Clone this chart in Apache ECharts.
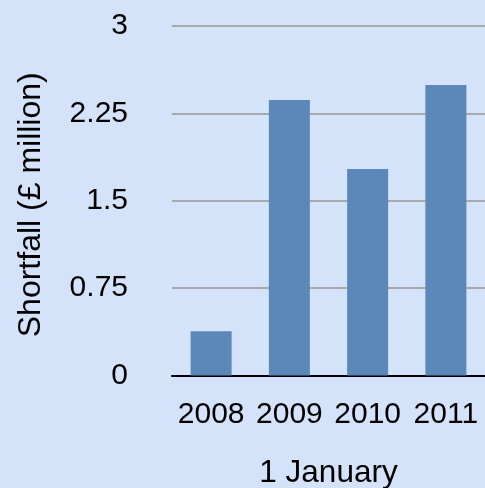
<!DOCTYPE html>
<html>
<head>
<meta charset="utf-8">
<script src="https://cdn.jsdelivr.net/npm/echarts@6/dist/echarts.min.js"></script>
<style>
html,body{margin:0;padding:0;background:#d4e3fa;}
#chart{width:485px;height:488px;}
</style>
</head>
<body>
<div id="chart"></div>
<script>
const categories = ['2008', '2009', '2010', '2011'];
const shortfall = [0.38, 2.365, 1.772, 2.494];
const yTicks = [0, 0.75, 1.5, 2.25, 3];
const xTitle = '1 January';
const yTitle = 'Shortfall (£ million)';

const font = '"Liberation Sans", Arial, Helvetica, sans-serif';
const chart = echarts.init(document.getElementById('chart'));
chart.setOption({
  backgroundColor: '#d4e3fa',
  animation: false,
  grid: { left: 172, right: 0, top: 26, bottom: 112.5, containLabel: false, outerBoundsMode: 'none' },
  xAxis: {
    type: 'category',
    data: categories,
    name: xTitle,
    nameLocation: 'middle',
    nameGap: 82,
    nameTextStyle: { color: '#000', fontSize: 31.5, fontFamily: font },
    axisLine: { show: true, lineStyle: { color: '#000', width: 2 } },
    axisTick: { show: false },
    axisLabel: { color: '#000', fontSize: 30, fontFamily: font, margin: 24, interval: 0 }
  },
  yAxis: {
    type: 'value',
    min: yTicks[0],
    max: yTicks[yTicks.length - 1],
    interval: yTicks[1] - yTicks[0],
    name: yTitle,
    nameLocation: 'middle',
    nameGap: 125,
    nameTextStyle: { color: '#000', fontSize: 32, fontFamily: font, padding: [0, 8, 0, 0] },
    axisLine: { show: false },
    axisTick: { show: false },
    axisLabel: { color: '#000', fontSize: 30, fontFamily: font, margin: 44,
      formatter: v => String(v) },
    splitLine: { show: true, lineStyle: { color: '#a9a9a9', width: 2 } }
  },
  series: [{
    type: 'bar',
    data: shortfall,
    barWidth: 41,
    itemStyle: { color: '#5b88b9' }
  }]
});
</script>
</body>
</html>
